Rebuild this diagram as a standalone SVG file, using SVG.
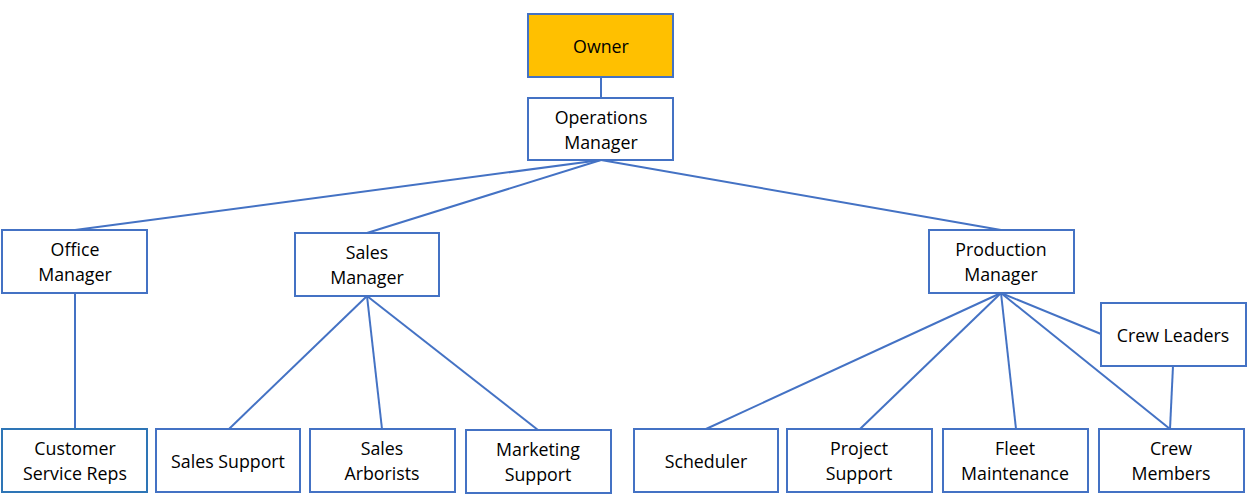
<svg xmlns="http://www.w3.org/2000/svg" width="1249" height="499" viewBox="0 0 1249 499">
<style>
.box{fill:#fff;stroke:#4472C4;stroke-width:2}
.owner{fill:#FFC000;stroke:#4472C4;stroke-width:2}
.csr{fill:#fff;stroke:#2E75B6;stroke-width:2}
.t{font-family:"Open Sans","Liberation Sans",sans-serif;font-size:17.8px;fill:#000;text-anchor:middle}
.c{stroke:#4472C4;stroke-width:2;fill:none}
</style>
<rect width="1249" height="499" fill="#fff"/>
<g id="connectors">
<line class="c" x1="601" y1="77" x2="601" y2="98"/>
<line class="c" x1="601" y1="160" x2="75" y2="230"/>
<line class="c" x1="601" y1="160" x2="367" y2="233"/>
<line class="c" x1="601" y1="160" x2="1001" y2="230"/>
<line class="c" x1="75" y1="293" x2="75" y2="429"/>
<line class="c" x1="367" y1="296" x2="229" y2="429"/>
<line class="c" x1="367" y1="296" x2="382" y2="429"/>
<line class="c" x1="367" y1="296" x2="538" y2="430"/>
<line class="c" x1="1001" y1="293" x2="706" y2="429"/>
<line class="c" x1="1001" y1="293" x2="860" y2="429"/>
<line class="c" x1="1001" y1="293" x2="1016" y2="429"/>
<line class="c" x1="1001" y1="293" x2="1170" y2="429"/>
<line class="c" x1="1001" y1="293" x2="1101" y2="334"/>
<line class="c" x1="1173" y1="366" x2="1170" y2="429"/>
</g>
<g id="owner"><rect class="owner" x="528" y="14" width="145" height="63"/><text class="t" x="601" y="53">Owner</text></g>
<g id="ops"><rect class="box" x="528" y="98" width="145" height="62"/><text class="t" x="601" y="124">Operations</text><text class="t" x="601" y="149">Manager</text></g>
<g id="office"><rect class="box" x="2" y="230" width="145" height="63"/><text class="t" x="75" y="256">Office</text><text class="t" x="75" y="281">Manager</text></g>
<g id="sales"><rect class="box" x="295" y="233" width="144" height="63"/><text class="t" x="367" y="259">Sales</text><text class="t" x="367" y="284">Manager</text></g>
<g id="production"><rect class="box" x="929" y="230" width="145" height="63"/><text class="t" x="1001" y="256">Production</text><text class="t" x="1001" y="281">Manager</text></g>
<g id="crewleaders"><rect class="box" x="1101" y="303" width="145" height="63"/><text class="t" x="1173" y="342">Crew Leaders</text></g>
<g id="csr"><rect class="csr" x="2" y="429" width="145" height="63"/><text class="t" x="75" y="455">Customer</text><text class="t" x="75" y="480">Service Reps</text></g>
<g id="salessupport"><rect class="box" x="156" y="429" width="144" height="63"/><text class="t" x="228" y="468">Sales Support</text></g>
<g id="arborists"><rect class="box" x="310" y="429" width="145" height="63"/><text class="t" x="382" y="455">Sales</text><text class="t" x="382" y="480">Arborists</text></g>
<g id="marketing"><rect class="box" x="466" y="430" width="145" height="63"/><text class="t" x="538" y="456">Marketing</text><text class="t" x="538" y="481">Support</text></g>
<g id="scheduler"><rect class="box" x="634" y="429" width="144" height="63"/><text class="t" x="706" y="468">Scheduler</text></g>
<g id="project"><rect class="box" x="787" y="429" width="145" height="63"/><text class="t" x="859" y="455">Project</text><text class="t" x="859" y="480">Support</text></g>
<g id="fleet"><rect class="box" x="943" y="429" width="145" height="63"/><text class="t" x="1015" y="455">Fleet</text><text class="t" x="1015" y="480">Maintenance</text></g>
<g id="crewmembers"><rect class="box" x="1099" y="429" width="145" height="63"/><text class="t" x="1171" y="455">Crew</text><text class="t" x="1171" y="480">Members</text></g>
</svg>
